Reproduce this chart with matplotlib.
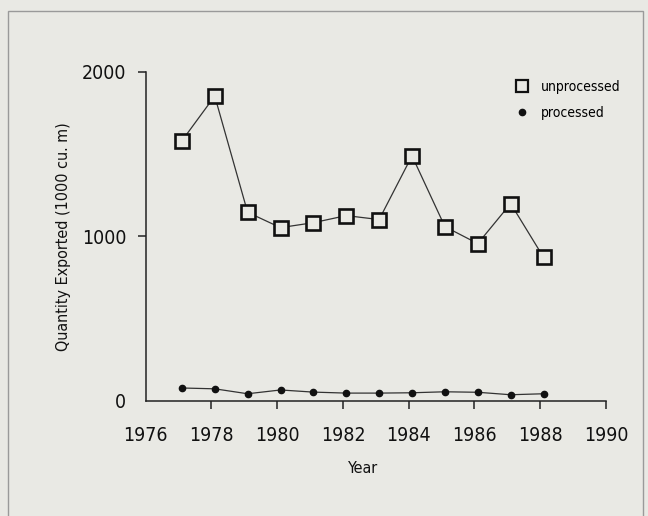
import matplotlib
matplotlib.use('Agg')
import matplotlib.pyplot as plt
from matplotlib import font_manager
from matplotlib.lines import Line2D
from matplotlib.patches import Rectangle
import numpy as np

# pick a narrow face if one is installed, the scan uses a condensed sans
narrow = None
for f in font_manager.fontManager.ttflist:
    if f.stretch in ('condensed', 'semi-condensed', 'extra-condensed') or 'Narrow' in f.name or 'Condensed' in f.name:
        if f.style == 'normal' and f.weight in (400, 'normal', 'regular'):
            narrow = f
            break
if narrow is not None:
    plt.rcParams['font.family'] = [narrow.name, 'DejaVu Sans']
    plt.rcParams['font.stretch'] = narrow.stretch
else:
    plt.rcParams['font.family'] = ['DejaVu Sans']

years = np.arange(1977, 1989)
unprocessed = [1580, 1852, 1146, 1053, 1083, 1126, 1102, 1489, 1059, 956, 1199, 873]
processed = [79, 74, 44, 67, 54, 48, 48, 50, 56, 53, 38, 44]
xticks = [1976, 1978, 1980, 1982, 1984, 1986, 1988, 1990]
yticks = [0, 1000, 2000]

bg = '#e9e9e4'
fig = plt.figure(figsize=(6.48, 5.16), dpi=100, facecolor=bg)
ax = fig.add_axes([145.7 / 648, 1 - 401 / 516, 460.3 / 648, 329.3 / 516])
ax.set_facecolor(bg)

# points sit a little past the year ticks in the scan
x = years + 0.1
ax.plot(x, unprocessed, color='#333333', lw=0.9, marker='s', ms=10, mew=1.9,
        mec='#111111', mfc=bg)
ax.plot(x, processed, color='#333333', lw=0.9, marker='o', ms=4.5,
        mec='#111111', mfc='#111111')

ax.set_xlim(1976, 1990)
ax.set_ylim(0, 2000)
ax.set_xticks(xticks)
ax.set_yticks(yticks)
ax.tick_params(direction='out', length=6, width=1.1, color='#222222',
               labelsize=14, labelcolor='#111111')
ax.tick_params(axis='x', pad=12)
ax.tick_params(axis='y', pad=8)
ax.xaxis.get_major_ticks()[0].tick1line.set_visible(False)
ax.yaxis.get_major_ticks()[0].tick1line.set_visible(False)

for s in ['top', 'right']:
    ax.spines[s].set_visible(False)
for s in ['left', 'bottom']:
    ax.spines[s].set_linewidth(1.1)
    ax.spines[s].set_color('#222222')

ax.set_xlabel('Year', fontsize=11.5, color='#111111', va='center')
ax.xaxis.set_label_coords(0.473, -0.2035)
ax.set_ylabel('Quantity Exported (1000 cu. m)', fontsize=11.5, color='#111111', va='center')
ax.yaxis.set_label_coords(-0.1786, 0.50)

handles = [
    Line2D([], [], ls='none', marker='s', ms=9, mew=1.6, mec='#111111', mfc=bg),
    Line2D([], [], ls='none', marker='o', ms=4.5, mec='#111111', mfc='#111111'),
]
ax.legend(handles, ['unprocessed', 'processed'], loc='upper left',
          bbox_to_anchor=(508 / 648, 1 - 73 / 516),
          bbox_transform=fig.transFigure, frameon=False, fontsize=10,
          handlelength=1.0, handletextpad=0.85, borderpad=0, labelspacing=0.85,
          numpoints=1)

fig.patches.append(Rectangle((7.5 / 648, -0.1), (643 - 7.5) / 648, 1.1 - 10.5 / 516,
                             transform=fig.transFigure, fill=False,
                             edgecolor='#9a9a9a', lw=1.0))

fig.savefig('out.png', dpi=100, facecolor=bg)
